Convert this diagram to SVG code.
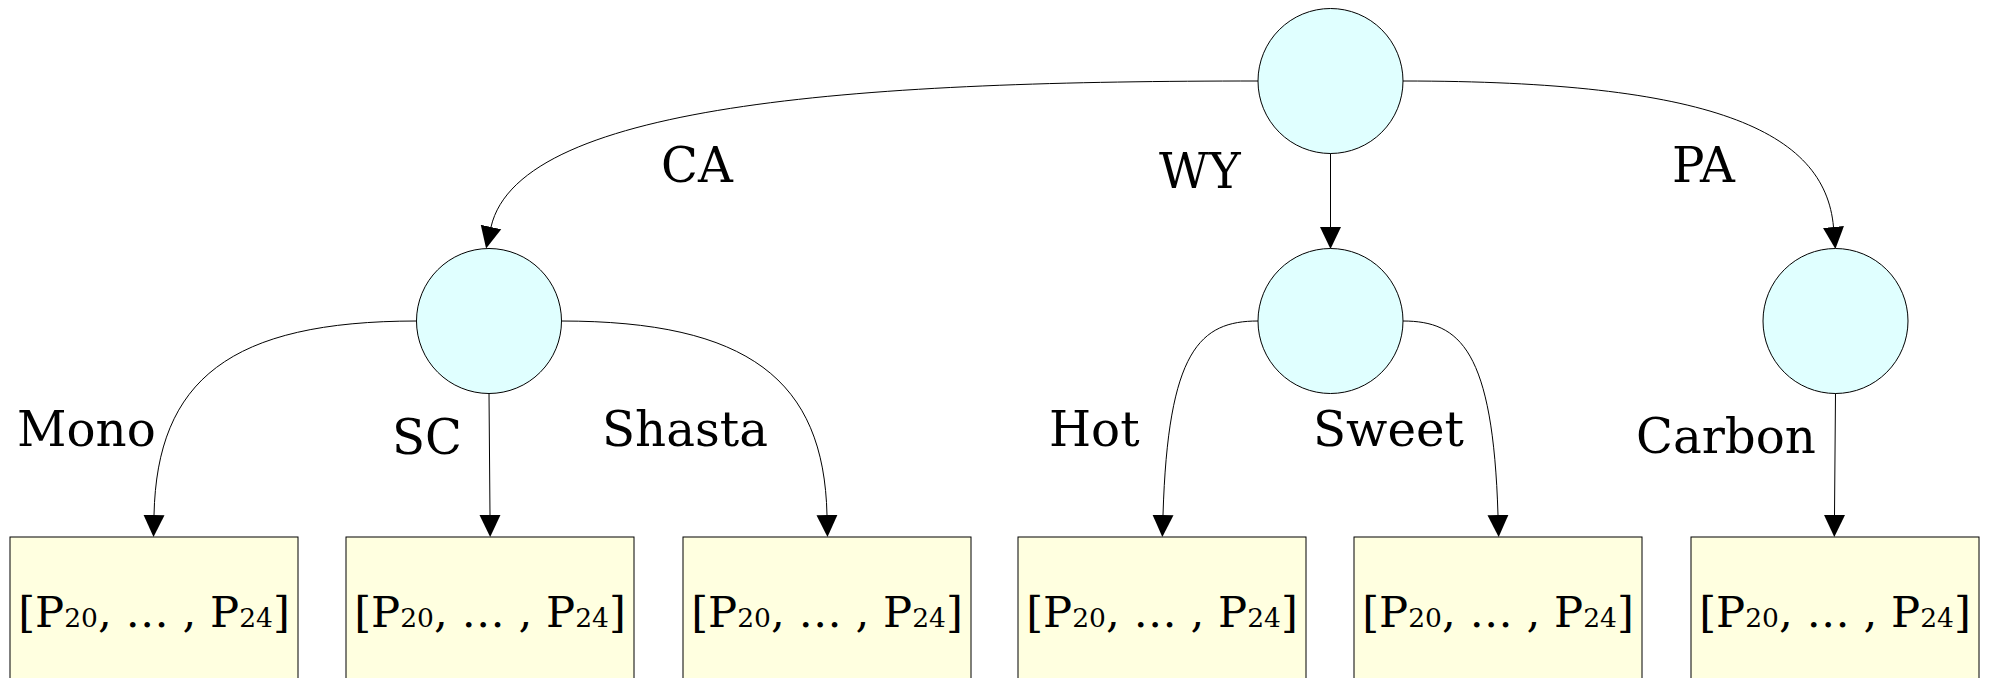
<svg xmlns="http://www.w3.org/2000/svg" width="1990" height="678" viewBox="0 0 1990 678">
<style>
.bg{fill:#ffffff}
.circ{fill:#e0ffff;stroke:#000;stroke-width:1}
.box{fill:#ffffe0;stroke:#000;stroke-width:1}
.edge{fill:none;stroke:#000;stroke-width:1;marker-end:url(#arr)}
.lbl{font-family:"DejaVu Serif",serif;font-size:48.3px;fill:#000}
.val{font-family:"DejaVu Serif",serif;font-size:43.3px;fill:#000;text-anchor:middle}
.sub{font-size:26.5px}
</style>
<defs>
<marker id="arr" markerUnits="userSpaceOnUse" markerWidth="24" markerHeight="24" viewBox="0 -12 24 24" refX="0" refY="0" orient="auto">
<path d="M0,-10.5 L22,0 L0,10.5 z" fill="#000"/>
</marker>
</defs>
<rect class="bg" x="0" y="0" width="1990" height="678"/>
<g id="connectors">
<path class="edge" d="M1258,81 C880,81 520,100 491,227"/>
<path class="edge" d="M1330.5,153 L1330.5,227"/>
<path class="edge" d="M1403,81 C1710,81 1825,130 1833.5,227"/>
<path class="edge" d="M417,321 C230,321 157,380 154,515"/>
<path class="edge" d="M489,393 L490,515"/>
<path class="edge" d="M561,321 C748,321 824,380 827,515"/>
<path class="edge" d="M1258,321 C1200,321 1168,350 1163,515"/>
<path class="edge" d="M1403,321 C1460,321 1493,350 1498,515"/>
<path class="edge" d="M1835.5,393 L1834.5,515"/>
</g>
<g id="labels">
<text class="lbl" x="661" y="182">CA</text>
<text class="lbl" x="1159" y="188">WY</text>
<text class="lbl" x="1672" y="182">PA</text>
<text class="lbl" x="17" y="446">Mono</text>
<text class="lbl" x="392" y="454">SC</text>
<text class="lbl" x="602" y="446">Shasta</text>
<text class="lbl" x="1049" y="446">Hot</text>
<text class="lbl" x="1313" y="446">Sweet</text>
<text class="lbl" x="1636" y="453">Carbon</text>
</g>
<g id="root"><circle class="circ" cx="1330.5" cy="81" r="72.5"/></g>
<g id="ca"><circle class="circ" cx="489" cy="321" r="72.5"/></g>
<g id="wy"><circle class="circ" cx="1330.5" cy="321" r="72.5"/></g>
<g id="pa"><circle class="circ" cx="1835.5" cy="321" r="72.5"/></g>
<g id="mono"><rect class="box" x="10" y="537" width="288" height="180"/><text class="val" x="154" y="627">[P<tspan class="sub">20</tspan>, … , P<tspan class="sub">24</tspan>]</text></g>
<g id="sc"><rect class="box" x="346" y="537" width="288" height="180"/><text class="val" x="490" y="627">[P<tspan class="sub">20</tspan>, … , P<tspan class="sub">24</tspan>]</text></g>
<g id="shasta"><rect class="box" x="683" y="537" width="288" height="180"/><text class="val" x="827" y="627">[P<tspan class="sub">20</tspan>, … , P<tspan class="sub">24</tspan>]</text></g>
<g id="hot"><rect class="box" x="1018" y="537" width="288" height="180"/><text class="val" x="1162" y="627">[P<tspan class="sub">20</tspan>, … , P<tspan class="sub">24</tspan>]</text></g>
<g id="sweet"><rect class="box" x="1354" y="537" width="288" height="180"/><text class="val" x="1498" y="627">[P<tspan class="sub">20</tspan>, … , P<tspan class="sub">24</tspan>]</text></g>
<g id="carbon"><rect class="box" x="1691" y="537" width="288" height="180"/><text class="val" x="1835" y="627">[P<tspan class="sub">20</tspan>, … , P<tspan class="sub">24</tspan>]</text></g>
</svg>
